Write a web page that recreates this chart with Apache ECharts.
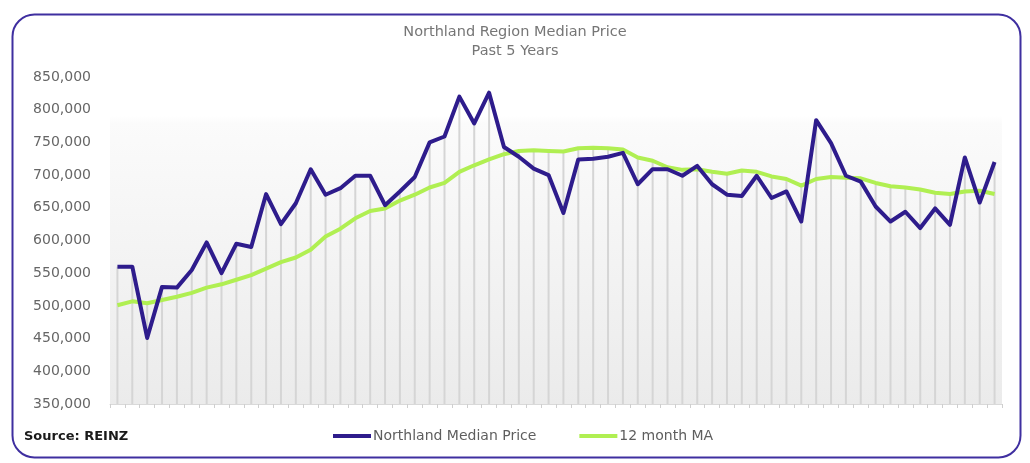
<!DOCTYPE html>
<html>
<head>
<meta charset="utf-8">
<script src="https://cdn.jsdelivr.net/npm/echarts@6/dist/echarts.min.js"></script>
<style>
html,body{margin:0;padding:0;background:#fff;}
#c{width:1030px;height:463px;}
</style>
</head>
<body>
<div id="c"></div>
<script>
var categories = ['M01','M02','M03','M04','M05','M06','M07','M08','M09','M10','M11','M12',
  'M13','M14','M15','M16','M17','M18','M19','M20','M21','M22','M23','M24',
  'M25','M26','M27','M28','M29','M30','M31','M32','M33','M34','M35','M36',
  'M37','M38','M39','M40','M41','M42','M43','M44','M45','M46','M47','M48',
  'M49','M50','M51','M52','M53','M54','M55','M56','M57','M58','M59','M60'];

var medianPrice = [560000,560000,451000,529000,528000,555000,597000,550000,595000,590000,671000,625000,
  657000,709000,670000,680000,699000,699000,654000,675000,697000,750000,759000,820000,
  779000,826000,743000,728000,710000,700000,642000,724000,725000,728000,734000,686000,
  709000,709000,699000,714000,686000,670000,668000,699000,665000,675000,629000,784000,
  749000,699000,690000,652000,629000,644000,619000,649000,624000,727000,658000,720000];

var movingAvg = [501000,507000,504000,509000,514000,520000,528000,533000,540000,547000,557000,567000,
  574000,586000,606000,618000,634000,645000,649000,661000,670000,681000,688000,705000,
  715000,724000,732000,737000,738000,737000,736000,741000,742000,741000,739000,727000,
  722000,712000,708000,709000,705000,702000,707000,705000,698000,694000,684000,694000,
  697000,696000,695000,688000,683000,681000,678000,673000,671000,675000,676000,671000];

var yTicks = {min: 350000, max: 850000, interval: 50000};

var dropLines = medianPrice.map(function(v, i){ return Math.max(v, movingAvg[i]); });

var chart = echarts.init(document.getElementById('c'), null, {renderer: 'canvas'});
var font = "'DejaVu Sans', sans-serif";
chart.setOption({
  animation: false,
  backgroundColor: '#ffffff',
  title: {
    text: 'Northland Region Median Price\nPast 5 Years',
    left: 'center',
    top: 18,
    textStyle: {fontFamily: font, fontSize: 14.5, fontWeight: 'normal', color: '#767676', lineHeight: 18.5}
  },
  graphic: [
    {type: 'rect', left: 10, top: 12, z: 100, silent: true,
     shape: {width: 1008, height: 443, r: 22},
     style: {fill: 'none', stroke: '#3f2fa0', lineWidth: 2}},
    {type: 'text', left: 24, top: 430, z: 100,
     style: {text: 'Source: REINZ', font: 'bold 13px ' + font, fill: '#1a1a1a'}}
  ],
  legend: {
    bottom: 15,
    left: 328,
    itemWidth: 38,
    itemHeight: 4,
    itemGap: 43,
    icon: 'rect',
    data: ['Northland Median Price', '12 month MA'],
    textStyle: {fontFamily: font, fontSize: 14, color: '#5e5e5e', padding: [0, 0, 0, -3]}
  },
  grid: {
    left: 110, right: 28, top: 77, bottom: 59,
    show: true, borderWidth: 0,
    backgroundColor: new echarts.graphic.LinearGradient(0, 0, 0, 1, [
      {offset: 0, color: '#ffffff'},
      {offset: 0.12, color: '#ffffff'},
      {offset: 0.14, color: '#fbfbfb'},
      {offset: 1, color: '#ebebeb'}
    ])
  },
  xAxis: {
    type: 'category',
    data: categories,
    boundaryGap: true,
    axisLine: {show: true, lineStyle: {color: '#d9d9d9', width: 1}},
    axisTick: {show: true, interval: 0, length: 4, lineStyle: {color: '#cfcfcf'}},
    axisLabel: {show: false},
    splitLine: {show: false}
  },
  yAxis: {
    type: 'value',
    min: yTicks.min, max: yTicks.max, interval: yTicks.interval,
    axisLine: {show: false},
    axisTick: {show: false},
    splitLine: {show: false},
    axisLabel: {
      margin: 19,
      fontFamily: font, fontSize: 14, color: '#666666',
      formatter: function(v){ return v.toLocaleString('en-US'); }
    }
  },
  series: [
    {
      name: 'drop', type: 'bar', data: dropLines, barWidth: 2,
      itemStyle: {color: '#d5d5d5'}, z: 1, silent: true, legendHoverLink: false
    },
    {
      name: 'Northland Median Price', type: 'line', data: medianPrice,
      symbol: 'none', z: 4,
      lineStyle: {color: '#2e1c8c', width: 4, join: 'round'},
      itemStyle: {color: '#2e1c8c'}
    },
    {
      name: '12 month MA', type: 'line', data: movingAvg,
      symbol: 'none', z: 3,
      lineStyle: {color: '#b0ef52', width: 4, join: 'round'},
      itemStyle: {color: '#b0ef52'}
    }
  ]
});
</script>
</body>
</html>
